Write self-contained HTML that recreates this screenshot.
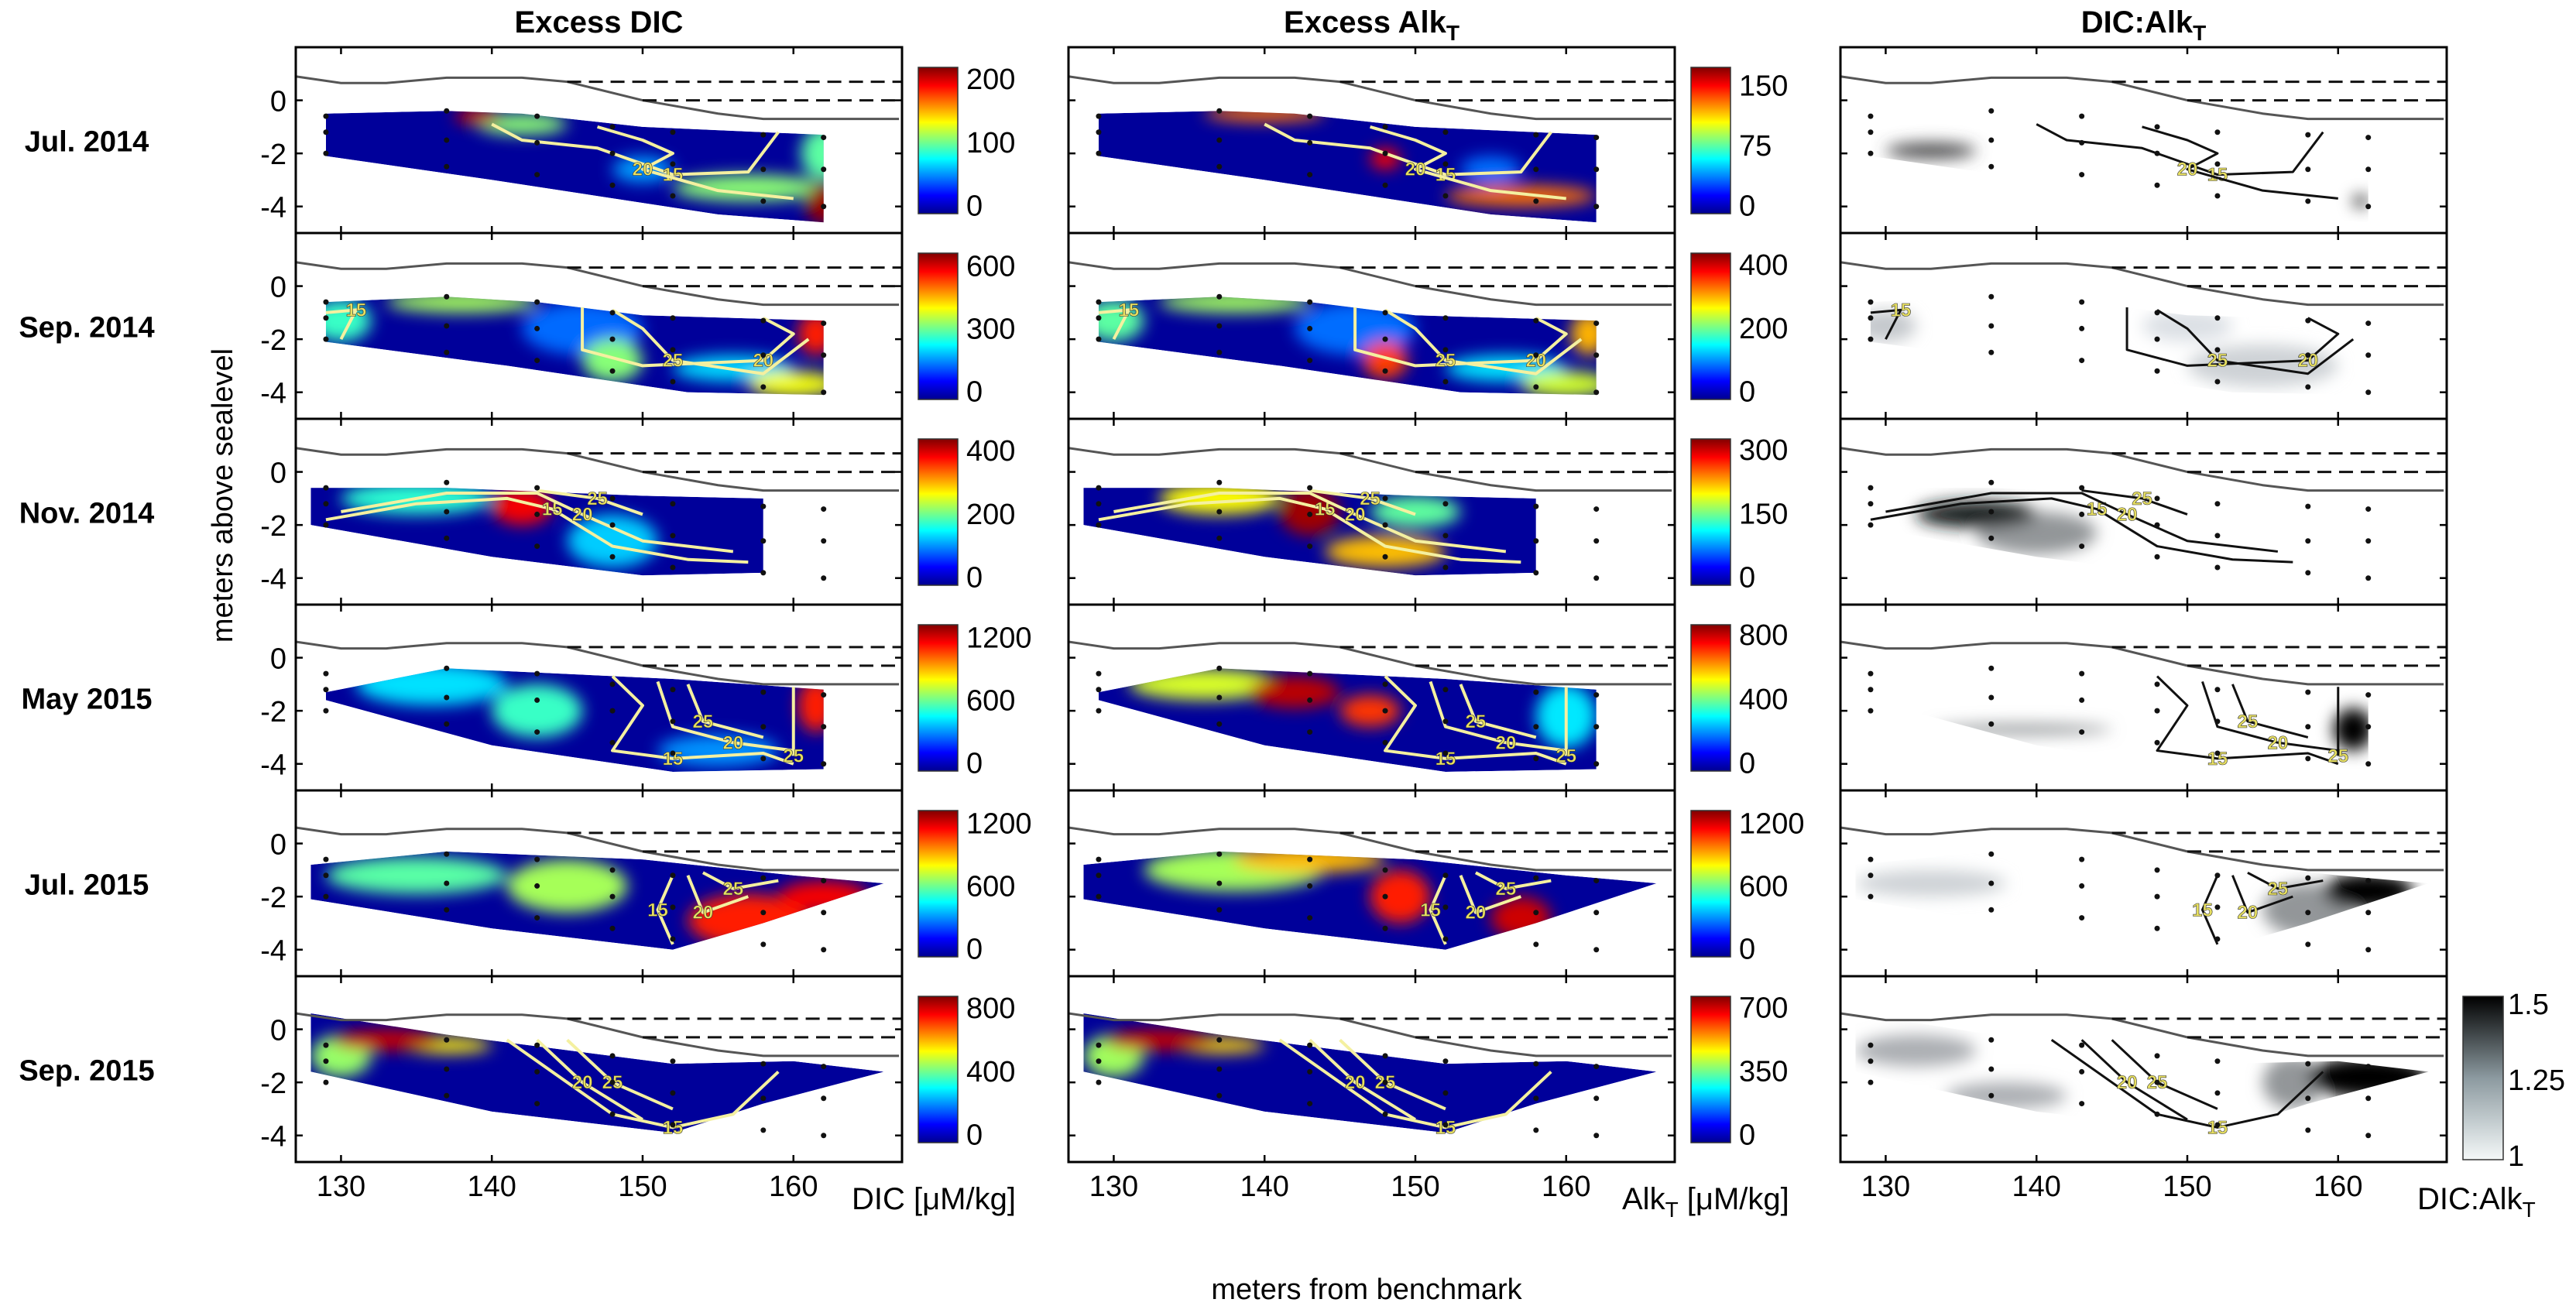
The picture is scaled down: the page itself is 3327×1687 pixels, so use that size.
<!DOCTYPE html>
<html><head><meta charset="utf-8">
<style>
body{margin:0;background:#fff;}
svg{display:block;font-family:"Liberation Sans",Arial,sans-serif;}
</style></head>
<body>
<svg id="fig" width="3327" height="1687" viewBox="0 0 3327 1687" xmlns="http://www.w3.org/2000/svg">
<defs>
<filter id="blur" x="-50%" y="-50%" width="200%" height="200%"><feGaussianBlur stdDeviation="10"/></filter>
<linearGradient id="jetgrad" x1="0" y1="1" x2="0" y2="0">
<stop offset="0" stop-color="#00008f"/><stop offset="0.125" stop-color="#0000ff"/><stop offset="0.375" stop-color="#00ffff"/><stop offset="0.625" stop-color="#ffff00"/><stop offset="0.875" stop-color="#ff0000"/><stop offset="1" stop-color="#800000"/>
</linearGradient>
<linearGradient id="graygrad" x1="0" y1="1" x2="0" y2="0">
<stop offset="0" stop-color="#f4f8f8"/><stop offset="0.5" stop-color="#8c9aa0"/><stop offset="1" stop-color="#000000"/>
</linearGradient>
</defs>
</svg>
<script>
const NS='http://www.w3.org/2000/svg';
const svg=document.getElementById('fig');
// ---- data ----
const columnTitles=['Excess DIC','Excess Alk','DIC:Alk'];
const rowLabels=['Jul. 2014','Sep. 2014','Nov. 2014','May 2015','Jul. 2015','Sep. 2015'];
const xTicks=[130,140,150,160];
const yTicks=[0,-2,-4];
const dicBarTicks=[[200,100,0],[600,300,0],[400,200,0],[1200,600,0],[1200,600,0],[800,400,0]];
const alkBarTicks=[[150,75,0],[400,200,0],[300,150,0],[800,400,0],[1200,600,0],[700,350,0]];
const dicBarMax=[215,650,430,1300,1300,860];
const alkBarMax=[170,430,320,850,1300,750];
const ratioTicks=[1.5,1.25,1];
const regions=[
 [[129,-0.5],[137,-0.4],[142,-0.5],[150,-1],[162,-1.3],[162,-4.6],[155,-4.3],[140,-3],[129,-2.1]],
 [[129,-0.6],[137,-0.4],[143,-0.6],[150,-1.1],[162,-1.3],[162,-4.1],[153,-4],[141,-3],[129,-2.1]],
 [[128,-0.6],[137,-0.6],[150,-0.9],[158,-1],[158,-3.8],[150,-3.9],[140,-3.2],[128,-2]],
 [[129,-1.3],[137,-0.4],[152,-0.8],[162,-1.2],[162,-4.2],[152,-4.3],[140,-3.3],[129,-1.6]],
 [[128,-0.8],[137,-0.3],[150,-0.6],[160,-1.2],[166,-1.5],[158,-3],[152,-4],[140,-3.2],[128,-2.1]],
 [[128,0.6],[137,-0.2],[152,-1.3],[160,-1.2],[166,-1.6],[158,-2.8],[152,-3.9],[140,-3.1],[128,-1.6]]
];
const dicBlobs=[
 [[157,-3.3,5,0.5,110],[162,-2,1.5,1,100],[142,-0.9,3,0.4,110],[139,-0.6,1.5,0.3,200],[150,-2.6,2,0.5,60],[162,-3.9,1.2,0.8,210]],
 [[138,-0.6,5,0.4,350],[130,-1.3,2,0.8,280],[146,-1.6,4,1,150],[156,-3.1,4,0.5,220],[148,-2.8,2,0.8,330],[160,-3.7,3,0.5,400],[161.5,-1.8,1.2,0.8,550]],
 [[135,-1,5,0.6,180],[148,-2.6,3,1,140],[142,-1.3,2,0.7,380]],
 [[136,-1,5,0.8,450],[143,-2,3,1,560],[155,-3.5,4,0.6,350],[161.5,-1.8,1.2,1,1100]],
 [[135,-1.2,6,0.7,600],[145,-1.6,4,1,700],[157,-2.9,4,1,1100],[162,-2,3,0.6,1150]],
 [[130,-1,2,0.8,450],[137,-0.6,3,0.3,550],[133,-0.4,3.5,0.4,800]]
];
const alkBlobs=[
 [[155,-2.6,2,0.5,40],[140,-0.5,4,0.3,130],[157,-3.6,5,0.4,130],[148,-2.2,1,0.4,150]],
 [[138,-0.6,5,0.4,230],[130,-1.3,2,0.8,200],[146,-1.6,4,1,100],[156,-3.1,4,0.5,150],[148,-2.8,1.5,0.7,350],[160,-3.7,3,0.5,250],[161.5,-1.8,1.2,0.8,300]],
 [[150,-1.5,3,0.6,150],[137,-1,4,0.6,200],[148,-3,4,0.6,220],[143,-1.5,2,0.9,310]],
 [[136,-1,5,0.6,500],[160,-2.2,2,1.2,300],[147,-2,2,0.6,700],[142,-1.3,3,0.6,800]],
 [[138,-1,6,0.8,700],[143,-0.6,5,0.5,900],[149,-2,2,1,1100],[157,-2.8,2,0.8,1200]],
 [[130,-1,2,0.8,400],[137,-0.6,3,0.3,500],[133,-0.4,3.5,0.4,700]]
];
const ratioBlobs=[
 [[133,-1.9,3,0.3,1.35],[161.5,-3.8,0.5,0.2,1.5]],
 [[130,-1.5,2,0.6,1.1],[155,-3,5,0.8,1.08],[150,-1.5,3,0.6,1.05]],
 [[140,-2.3,4,0.8,1.2],[136,-1.6,4,0.5,1.45]],
 [[139,-2.7,6,0.2,1.2],[161,-2.7,1.3,0.8,1.5]],
 [[133,-1.5,5,0.5,1.08],[158,-2.5,3,1,1.2],[162,-1.8,3,0.7,1.5]],
 [[132,-0.8,4,0.6,1.15],[138,-2.5,4,0.5,1.15],[157,-2,2,1,1.2],[162,-1.8,4,0.8,1.5]]
];
const contours=[
 [[[140,-0.9],[142,-1.5],[147,-1.8],[152,-2.8],[157,-2.7],[159,-1.2]],[[147,-1],[150,-1.5],[152,-2],[150,-2.6],[155,-3.4],[160,-3.7]]],
 [[[129,-1],[131,-0.9],[130,-2]],[[146,-0.8],[146,-2.4],[150,-3],[158,-2.8],[160,-1.8],[158,-1.2]],[[148,-0.9],[150,-1.6],[152,-2.8],[158,-3.3],[161,-2]]],
 [[[129,-1.8],[135,-1.2],[141,-1],[144,-1.4],[148,-2.8],[153,-3.3],[157,-3.4]],[[130,-1.5],[137,-0.8],[143,-0.8],[146,-1.6],[150,-2.6],[156,-3.0]],[[143,-0.7],[147,-1],[150,-1.6]]],
 [[[148,-0.7],[150,-1.8],[148,-3.5],[152,-3.8],[158,-3.6],[160,-4]],[[151,-0.9],[152,-2.6],[156,-3.2],[160,-3.5]],[[153,-1],[154,-2.4],[158,-3]],[[160,-1.1],[160,-3.7]]],
 [[[152,-1.2],[151,-2.5],[152,-3.8]],[[153,-1.2],[154,-2.6],[157,-2]],[[154,-1.1],[156,-1.7],[159,-1.4]]],
 [[[141,-0.4],[145,-2],[148,-3.2],[152,-3.7],[156,-3.2],[159,-1.6]],[[143,-0.4],[146,-2],[150,-3.4]],[[145,-0.4],[148,-2],[152,-3]]]
];
const stationX=[129,137,143,148,152,158,162];
const stationY=[[-0.6,-1.2,-2],[-0.4,-1.5,-2.5],[-0.6,-1.6,-2.8],[-1,-2,-3.2],[-1.2,-2.4,-3.6],[-1.3,-2.6,-3.8],[-1.4,-2.6,-4]];
const shoreX=[127,130,133,137,142,145,150,155,158,167];
const shoreY=[0.9,0.65,0.65,0.85,0.85,0.7,0.0,-0.5,-0.7,-0.7];

// ---- layout ----
const colX=[382,1380,2377], PW=783, rowTop=61, RH=240;
const xmin=127,xmax=167.2,ymin=-5,ymax=2;
function sx(c,x){return colX[c]+(x-xmin)/(xmax-xmin)*PW;}
function sy(r,y){return rowTop+r*RH+(ymax-y)/(ymax-ymin)*RH;}
function mk(tag,attrs,parent){const e=document.createElementNS(NS,tag);for(const k in attrs)e.setAttribute(k,attrs[k]);(parent||svg).appendChild(e);return e;}
function jet(t){t=Math.max(0,Math.min(1,t));
 const r=Math.min(1,Math.max(0,1.5-Math.abs(4*t-3))),g=Math.min(1,Math.max(0,1.5-Math.abs(4*t-2))),b=Math.min(1,Math.max(0,1.5-Math.abs(4*t-1)));
 return `rgb(${r*255|0},${g*255|0},${b*255|0})`;}
function gray(v){const t=Math.max(0,Math.min(1,(v-1)/0.5));const l=Math.round(245*(1-t));return `rgb(${l},${Math.min(255,Math.round(l*1.02))},${Math.min(255,Math.round(l*1.04))})`;}

for(let c=0;c<3;c++){
 const t=mk('text',{x:colX[c]+PW/2,y:42,'text-anchor':'middle','font-size':40,'font-weight':'bold'});
 
 
 t.textContent=columnTitles[c];
 if(c>0){const s=mk('tspan',{'font-size':28,dy:10},t);s.textContent='T';}
}

for(let r=0;r<6;r++){
 const lab=mk('text',{x:112,y:sy(r,0)+66,'text-anchor':'middle','font-size':38,'font-weight':'bold'});
 
 
 lab.textContent=rowLabels[r];
 for(let c=0;c<3;c++){
  const g=mk('g',{});
  
  
  const cid='clip'+r+'_'+c;
  const cp=mk('clipPath',{id:cid},g);
  const pts=regions[r].map(p=>sx(c,p[0])+','+sy(r,p[1])).join(' ');
  mk('polygon',{points:pts},cp);
  const bg=mk('g',{'clip-path':`url(#${cid})`},g);
  if(c<2){
   mk('polygon',{points:pts,fill:'#00009a'},bg);
   const blobs=c==0?dicBlobs[r]:alkBlobs[r], mx=c==0?dicBarMax[r]:alkBarMax[r];
   const bl=mk('g',{filter:'url(#blur)'},bg);
   blobs.forEach(b=>{
    const e=mk('ellipse',{cx:sx(c,b[0]),cy:sy(r,b[1]),rx:b[2]/(xmax-xmin)*PW,ry:b[3]/7*RH,fill:jet(b[4]/mx)},bl);
    
    
   });
  } else {
   const bl=mk('g',{filter:'url(#blur)'},bg);
   ratioBlobs[r].forEach(b=>{
    const e=mk('ellipse',{cx:sx(c,b[0]),cy:sy(r,b[1]),rx:b[2]/(xmax-xmin)*PW,ry:b[3]/7*RH,fill:gray(b[4])},bl);
    
    
   });
  }
  contours[r].forEach((ln,i)=>{
   const p=mk('polyline',{points:ln.map(q=>sx(c,q[0])+','+sy(r,q[1])).join(' '),fill:'none',stroke:c<2?'#f4f0a0':'#111','stroke-width':c<2?4:3,'stroke-linejoin':'round'},g);
   
   
   const mid=ln[Math.floor(ln.length/2)];
   const tl=mk('text',{x:sx(c,mid[0]),y:sy(r,mid[1])+8,'font-size':24,'font-weight':'bold',fill:'#e8e060','text-anchor':'middle',stroke:'#333','stroke-width':0.6},g);
   
   
   tl.textContent=['15','20','25','25'][Math.min(i,3)];
  });
  stationX.forEach((sxv,i)=>stationY[i].forEach(yv=>{
   const d=mk('circle',{cx:sx(c,sxv),cy:sy(r,yv),r:3.5,fill:'#111'},g);
   
   
  }));
  const shift=r>=3?-0.3:0;
  const sl=mk('polyline',{points:shoreX.map((x,i)=>sx(c,x)+','+sy(r,shoreY[i]+shift)).join(' '),fill:'none',stroke:'#555','stroke-width':3},g);
  
  
  [[145,0.7],[150,0]].forEach(d=>{
   const l=mk('line',{x1:sx(c,d[0]),x2:sx(c,xmax),y1:sy(r,d[1]+shift),y2:sy(r,d[1]+shift),stroke:'#111','stroke-width':3,'stroke-dasharray':'18,10'},g);
   
   
  });
  mk('rect',{x:colX[c],y:rowTop+r*RH,width:PW,height:RH,fill:'none',stroke:'#000','stroke-width':3},g);
  xTicks.forEach(v=>{
   mk('line',{x1:sx(c,v),x2:sx(c,v),y1:rowTop+r*RH,y2:rowTop+r*RH+9,stroke:'#000','stroke-width':2.5},g);
   mk('line',{x1:sx(c,v),x2:sx(c,v),y1:rowTop+(r+1)*RH,y2:rowTop+(r+1)*RH-9,stroke:'#000','stroke-width':2.5},g);
   if(r==5){const t=mk('text',{x:sx(c,v),y:1545,'text-anchor':'middle','font-size':38},g);
    t.textContent=v;}
  });
  yTicks.forEach(v=>{
   mk('line',{x1:colX[c],x2:colX[c]+9,y1:sy(r,v),y2:sy(r,v),stroke:'#000','stroke-width':2.5},g);
   mk('line',{x1:colX[c]+PW,x2:colX[c]+PW-9,y1:sy(r,v),y2:sy(r,v),stroke:'#000','stroke-width':2.5},g);
   if(c==0){const t=mk('text',{x:colX[0]-12,y:sy(r,v)+14,'text-anchor':'end','font-size':38},g);
    t.textContent=v;}
  });
  if(c<2){
   const bx=colX[c]+PW+21, by=rowTop+r*RH+26, bh=189;
   const cb=mk('rect',{x:bx,y:by,width:51,height:bh,fill:'url(#jetgrad)',stroke:'#333','stroke-width':1.5},g);
   
   
   const ticks=c==0?dicBarTicks[r]:alkBarTicks[r], mx=c==0?dicBarMax[r]:alkBarMax[r];
   ticks.forEach(v=>{
    const ty=by+bh-(v/mx)*bh*0.93-bh*0.06;
    const t=mk('text',{x:bx+62,y:ty+14,'font-size':38},g);
    t.textContent=v;
   });
  } else if(r==5){
   const bx=3181, by=1287, bh=211;
   const cb=mk('rect',{x:bx,y:by,width:52,height:bh,fill:'url(#graygrad)',stroke:'#333','stroke-width':1.5},g);
   
   
   ratioTicks.forEach(v=>{
    const ty=by+bh-(v-1)/0.5*bh*0.93-6;
    const t=mk('text',{x:bx+58,y:ty+14,'font-size':38},g);
    t.textContent=v;
   });
  }
 }
}
function txt(x,y,s,size,name,extra){const t=mk('text',Object.assign({x:x,y:y,'font-size':size},extra||{}));t.textContent=s;return t;}
txt(1765,1678,'meters from benchmark',38,'x-axis-title',{'text-anchor':'middle'});
txt(0,0,'meters above sealevel',38,'y-axis-title',{'text-anchor':'middle',transform:'translate(300,640) rotate(-90)'});
txt(1100,1562,'DIC [μM/kg]',40,'dic-units-label');
const a=txt(2095,1562,'Alk',40,'alk-units-label');
mk('tspan',{'font-size':28,dy:10},a).textContent='T';
mk('tspan',{dy:-10},a).textContent=' [μM/kg]';
const d=txt(3122,1562,'DIC:Alk',40,'ratio-units-label');
mk('tspan',{'font-size':28,dy:10},d).textContent='T';
</script>
</body></html>
